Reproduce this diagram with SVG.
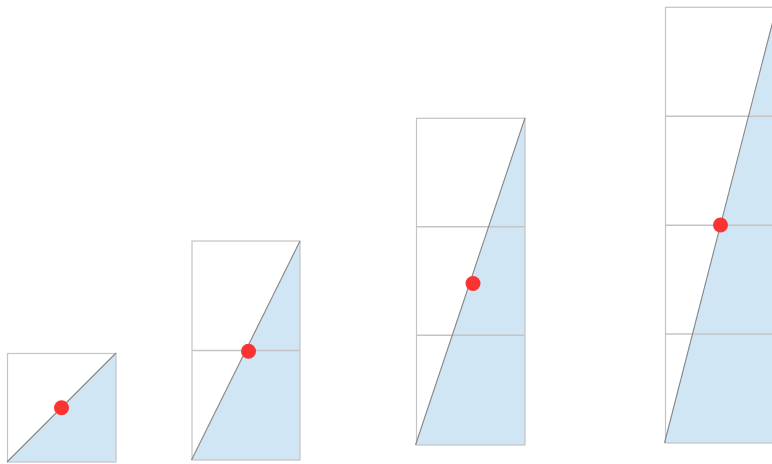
<svg xmlns="http://www.w3.org/2000/svg" width="772" height="464" viewBox="0 0 772 464">
<style>
.fill{fill:#d0e6f5;stroke:none}
.box{fill:none;stroke:#c4c4c4;stroke-width:1.2}
.div{stroke:#c4c4c4;stroke-width:1.5}
.diag{stroke:#858585;stroke-width:1.1}
.dot{fill:#fa3333}
</style>
<rect width="772" height="464" fill="#ffffff"/>
<g id="col1">
<polygon class="fill" points="7,462 116,353 116,462"/>
<rect class="box" x="7.5" y="353.5" width="108.5" height="108.5"/>
<line class="diag" x1="7" y1="462" x2="116" y2="353"/>
<circle class="dot" cx="61.5" cy="407.8" r="7.5"/>
</g>
<g id="col2">
<polygon class="fill" points="191.5,460 300,241 300,460"/>
<rect class="box" x="192" y="241" width="108" height="219"/>
<line class="div" x1="192" y1="350.5" x2="300" y2="350.5"/>
<line class="diag" x1="191.5" y1="460" x2="300" y2="241"/>
<circle class="dot" cx="248.5" cy="351.3" r="7.5"/>
</g>
<g id="col3">
<polygon class="fill" points="415.5,445 525,118 525,445"/>
<rect class="box" x="416.5" y="118.3" width="108.5" height="326.7"/>
<line class="div" x1="416.5" y1="226.8" x2="525" y2="226.8"/>
<line class="div" x1="416.5" y1="335.3" x2="525" y2="335.3"/>
<line class="diag" x1="415.5" y1="445" x2="525" y2="118"/>
<circle class="dot" cx="473" cy="283.5" r="7.5"/>
</g>
<g id="col4">
<polygon class="fill" points="664.5,443 776.5,7 776.5,443"/>
<rect class="box" x="665.5" y="7.3" width="111" height="435.7"/>
<line class="div" x1="665.5" y1="116.2" x2="776" y2="116.2"/>
<line class="div" x1="665.5" y1="225.2" x2="776" y2="225.2"/>
<line class="div" x1="665.5" y1="334.1" x2="776" y2="334.1"/>
<line class="diag" x1="664.5" y1="443" x2="776.5" y2="7"/>
<circle class="dot" cx="720.5" cy="225" r="7.5"/>
</g>
<g id="connectors"></g>
</svg>
